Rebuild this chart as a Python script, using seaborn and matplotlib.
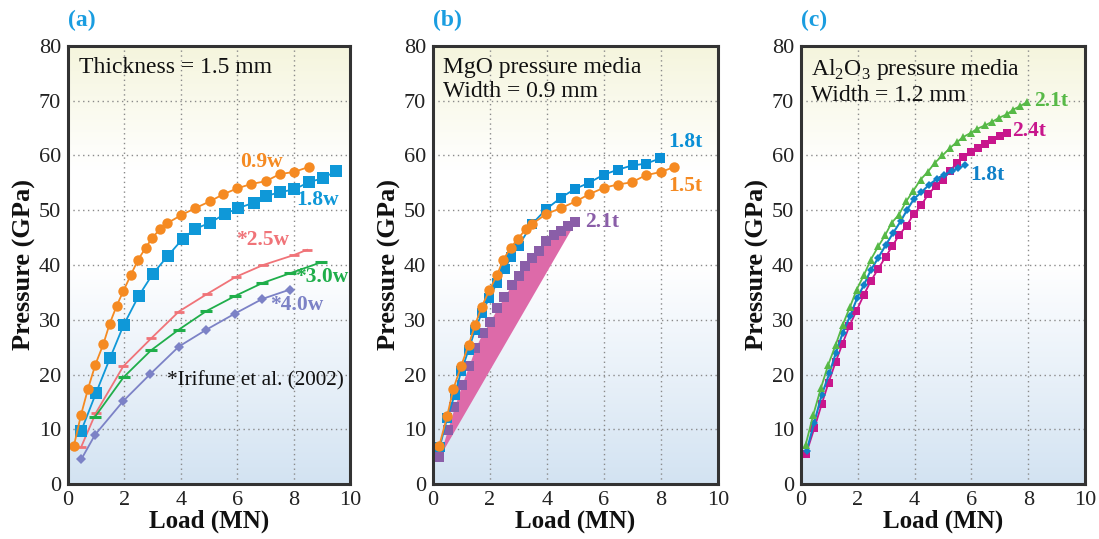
import numpy as np
import pandas as pd
import matplotlib
matplotlib.use("Agg")
import matplotlib.pyplot as plt
import seaborn as sns
from matplotlib.colors import LinearSegmentedColormap

sns.set_theme(style="white")
plt.rcParams['font.family'] = ['Liberation Serif', 'DejaVu Serif']
plt.rcParams['mathtext.fontset'] = 'custom'
plt.rcParams['mathtext.rm'] = 'Liberation Serif'

# ---------------- data: panel (a), thickness = 1.5 mm ----------------
a09w_x = [0.21, 0.46, 0.71, 0.97, 1.25, 1.48, 1.73, 1.96, 2.22, 2.49, 2.75, 2.98, 3.25, 3.51,
          4.01, 4.52, 5.02, 5.50, 6.00, 6.50, 7.01, 7.51, 8.02, 8.53]
a09w_y = [7.0, 12.6, 17.4, 21.8, 25.5, 29.3, 32.6, 35.2, 38.1, 41.0, 43.1, 44.9, 46.5, 47.6,
          49.1, 50.4, 51.6, 52.9, 54.0, 54.8, 55.3, 56.6, 57.0, 57.9]
a18w_x = [0.46, 1.0, 1.49, 1.97, 2.50, 3.01, 3.53, 4.07, 4.51, 5.03, 5.56, 6.04, 6.60, 7.03,
          7.51, 8.02, 8.53, 9.06, 9.51]
a18w_y = [9.6, 16.7, 23.0, 29.0, 34.3, 38.4, 41.6, 44.8, 46.6, 47.7, 49.3, 50.4, 51.4, 52.6,
          53.3, 53.8, 55.1, 55.9, 57.2]
a25w_x = [0.47, 0.98, 1.96, 2.95, 3.93, 4.93, 5.94, 6.92, 8.0, 8.49]
a25w_y = [6.8, 12.9, 21.5, 26.6, 31.5, 34.7, 37.8, 40.0, 41.8, 42.8]
a30w_x = [0.96, 1.97, 2.94, 3.93, 4.91, 5.91, 6.89, 7.88, 8.98]
a30w_y = [12.3, 19.5, 24.4, 28.2, 31.6, 34.3, 36.7, 38.5, 40.5]
a40w_x = [0.47, 0.96, 1.95, 2.92, 3.93, 4.91, 5.91, 6.89, 7.86]
a40w_y = [4.5, 9.0, 15.1, 20.1, 25.1, 28.2, 31.1, 33.8, 35.5]

# ---------------- data: panel (b), MgO, width = 0.9 mm ----------------
b18t_x = [0.24, 0.50, 0.76, 0.99, 1.25, 1.48, 1.72, 1.98, 2.24, 2.51, 2.75, 3.0, 3.48, 3.97,
          4.49, 4.98, 5.47, 5.99, 6.48, 7.0, 7.47, 7.98]
b18t_y = [6.8, 12.0, 16.3, 20.6, 24.5, 28.2, 31.3, 34.0, 36.7, 39.3, 41.5, 43.5, 47.5, 50.2,
          52.3, 53.9, 55.0, 56.5, 57.4, 58.2, 58.5, 59.5]
b15t_x = [0.22, 0.50, 0.71, 0.99, 1.25, 1.48, 1.71, 1.98, 2.24, 2.47, 2.72, 2.98, 3.25, 3.48,
          3.97, 4.49, 5.0, 5.47, 5.99, 6.48, 6.97, 7.47, 8.0, 8.47]
b15t_y = [7.0, 12.5, 17.3, 21.6, 25.4, 29.1, 32.4, 35.4, 38.1, 41.0, 43.1, 44.8, 46.5, 47.5,
          49.3, 50.4, 51.6, 52.9, 54.1, 54.7, 55.1, 56.4, 57.0, 57.9]
b21t_x = [0.22, 0.51, 0.75, 1.01, 1.25, 1.48, 1.74, 1.99, 2.26, 2.49, 2.76, 3.0, 3.23, 3.48,
          3.72, 3.97, 4.23, 4.49, 4.72, 4.98]
b21t_y = [5.0, 9.9, 14.0, 18.1, 21.5, 24.8, 27.6, 29.6, 32.1, 34.1, 36.4, 38.0, 39.8, 41.2,
          42.5, 44.3, 45.4, 46.3, 47.1, 47.8]

# ---------------- data: panel (c), Al2O3, width = 1.2 mm ----------------
c21t_x = [0.16, 0.43, 0.70, 0.96, 1.22, 1.47, 1.73, 1.96, 2.21, 2.46, 2.72, 2.96, 3.19, 3.45,
          3.70, 3.96, 4.21, 4.46, 4.72, 4.98, 5.25, 5.48, 5.72, 5.97, 6.21, 6.48, 6.71, 6.98,
          7.24, 7.48, 7.71, 7.97]
c21t_y = [7.1, 12.6, 17.5, 21.8, 25.4, 29.1, 32.4, 35.5, 38.1, 41.0, 43.4, 45.4, 47.7, 49.2,
          51.6, 53.6, 55.6, 57.0, 58.7, 60.0, 61.4, 62.4, 63.4, 64.1, 64.9, 65.5, 66.1, 66.9,
          67.5, 68.4, 69.0, 69.8]
c18t_x = [0.20, 0.46, 0.73, 1.0, 1.23, 1.47, 1.73, 1.98, 2.22, 2.46, 2.72, 2.99, 3.25, 3.51,
          3.74, 3.98, 4.24, 4.52, 4.78, 5.04, 5.31, 5.54, 5.77]
c18t_y = [6.1, 11.1, 16.3, 20.2, 24.0, 27.6, 30.7, 34.0, 36.4, 39.1, 41.3, 43.7, 45.9, 48.0,
          50.1, 52.1, 53.3, 54.7, 55.7, 56.5, 57.1, 57.7, 58.2]
c24t_x = [0.18, 0.47, 0.73, 0.97, 1.22, 1.46, 1.70, 1.95, 2.21, 2.45, 2.72, 2.98, 3.22, 3.46,
          3.72, 3.97, 4.23, 4.48, 4.74, 4.99, 5.25, 5.48, 5.72, 5.99, 6.24, 6.48, 6.74, 7.0, 7.24]
c24t_y = [5.5, 10.2, 14.6, 18.5, 22.3, 25.6, 28.8, 31.6, 34.5, 37.0, 39.3, 41.5, 43.5, 45.5,
          47.2, 49.3, 50.9, 52.9, 54.4, 55.6, 57.1, 58.7, 59.7, 60.6, 61.4, 62.1, 62.9, 63.5, 64.1]

x_ticks = [0, 2, 4, 6, 8, 10]
y_ticks = [0, 10, 20, 30, 40, 50, 60, 70, 80]

# ---------------- figure ----------------
fig = plt.figure(figsize=(10.99, 5.39), dpi=100)
H = 539.0
W = 1099.0
bottom = 1 - 484 / H
height = (484 - 46) / H
lefts = [68, 433, 801]
widths = [282, 285, 284]
axes = [fig.add_axes([l / W, bottom, w / W, height]) for l, w in zip(lefts, widths)]

bg = LinearSegmentedColormap.from_list(
    "bg", [(0.0, "#d3e3f2"), (0.38, "#f4f8fc"), (0.5, "#ffffff"),
           (0.72, "#ffffff"), (1.0, "#f5f5dd")])
grad = np.linspace(0, 1, 256).reshape(-1, 1)


def style(ax, letter):
    ax.imshow(grad, cmap=bg, aspect="auto", origin="lower",
              extent=[0, 1, 0, 1], transform=ax.transAxes, zorder=0)
    ax.set_xlim(0, 10)
    ax.set_ylim(0, 80)
    ax.set_xticks(x_ticks)
    ax.set_yticks(y_ticks)
    ax.tick_params(axis="both", labelsize=16, length=0, pad=5, colors="#222222")
    ax.grid(True, linestyle=(0, (1, 2.5)), color="#8a8a8a", linewidth=1.0, zorder=1)
    for s in ax.spines.values():
        s.set_linewidth(2.2)
        s.set_color("#333333")
        s.set_zorder(10)
    ax.set_xlabel("Load (MN)", fontsize=18, fontweight="bold", labelpad=0, color="#111111")
    ax.set_ylabel("Pressure (GPa)", fontsize=19, fontweight="bold", labelpad=2, color="#111111")
    ax.text(0.0, 1.035, letter, transform=ax.transAxes, fontsize=17, fontweight="bold",
            color="#1a9de0", ha="left", va="bottom")


def series(ax, x, y, color, marker, ms, lw=1.3, mew=0, zorder=3):
    df = pd.DataFrame({"x": x, "y": y})
    sns.lineplot(data=df, x="x", y="y", ax=ax, color=color, marker=marker, markersize=ms,
                 linewidth=lw, markeredgewidth=mew, markeredgecolor=color, sort=False,
                 estimator=None, zorder=zorder)


lab = dict(fontsize=15.5, fontweight="bold", ha="left", va="center")

# ---- (a)
ax = axes[0]
style(ax, "(a)")
c_or = "#f58a22"
c_bl = "#0f98d8"
series(ax, a25w_x, a25w_y, "#f07378", "_", 7, mew=2)
series(ax, a30w_x, a30w_y, "#1fae4a", "_", 9, mew=2.2)
series(ax, a40w_x, a40w_y, "#7c82c6", "D", 5)
series(ax, a18w_x, a18w_y, c_bl, "s", 8)
series(ax, a09w_x, a09w_y, c_or, "o", 7.5)
ax.text(0.04, 0.975, "Thickness = 1.5 mm", transform=ax.transAxes, fontsize=17,
        va="top", ha="left", color="#111111")
ax.text(6.1, 58.9, "0.9w", color=c_or, **lab)
ax.text(8.1, 51.9, "1.8w", color=c_bl, **lab)
ax.text(5.95, 44.6, "*2.5w", color="#f07378", **lab)
ax.text(8.05, 37.8, "*3.0w", color="#1fae4a", **lab)
ax.text(7.15, 32.7, "*4.0w", color="#7c82c6", **lab)
ax.text(3.52, 18.8, "*Irifune et al. (2002)", color="#111111", fontsize=15.3,
        ha="left", va="center")

# ---- (b)
ax = axes[1]
style(ax, "(b)")
bx = np.array(b21t_x)
by = np.array(b21t_y)
chord = by[0] + (bx - bx[0]) * (by[-1] - by[0]) / (bx[-1] - bx[0])
ax.fill_between(bx, chord, by, color="#dd6aa9", linewidth=0, zorder=2)
series(ax, b21t_x, b21t_y, "#8a5ea8", "s", 7.5, lw=0)
series(ax, b18t_x, b18t_y, "#0a8fd6", "s", 7.7)
series(ax, b15t_x, b15t_y, c_or, "o", 7.5)
ax.text(0.035, 0.975, "MgO pressure media\nWidth = 0.9 mm", transform=ax.transAxes,
        fontsize=17, va="top", ha="left", color="#111111", linespacing=1.2)
ax.text(8.25, 62.5, "1.8t", color="#0a8fd6", **lab)
ax.text(8.25, 54.5, "1.5t", color=c_or, **lab)
ax.text(5.35, 47.9, "2.1t", color="#8a5ea8", **lab)

# ---- (c)
ax = axes[2]
style(ax, "(c)")
series(ax, c24t_x, c24t_y, "#c8168c", "s", 6.3)
series(ax, c18t_x, c18t_y, "#1181c8", "D", 4.2, lw=1.5)
series(ax, c21t_x, c21t_y, "#57b947", "^", 6)
ax.text(0.035, 0.975, "Al$_2$O$_3$ pressure media\nWidth = 1.2 mm", transform=ax.transAxes,
        fontsize=17, va="top", ha="left", color="#111111", linespacing=1.2)
ax.text(8.2, 70.0, "2.1t", color="#57b947", **lab)
ax.text(7.45, 64.5, "2.4t", color="#c8168c", **lab)
ax.text(5.95, 56.5, "1.8t", color="#1181c8", **lab)

fig.savefig("out.png", dpi=100)
